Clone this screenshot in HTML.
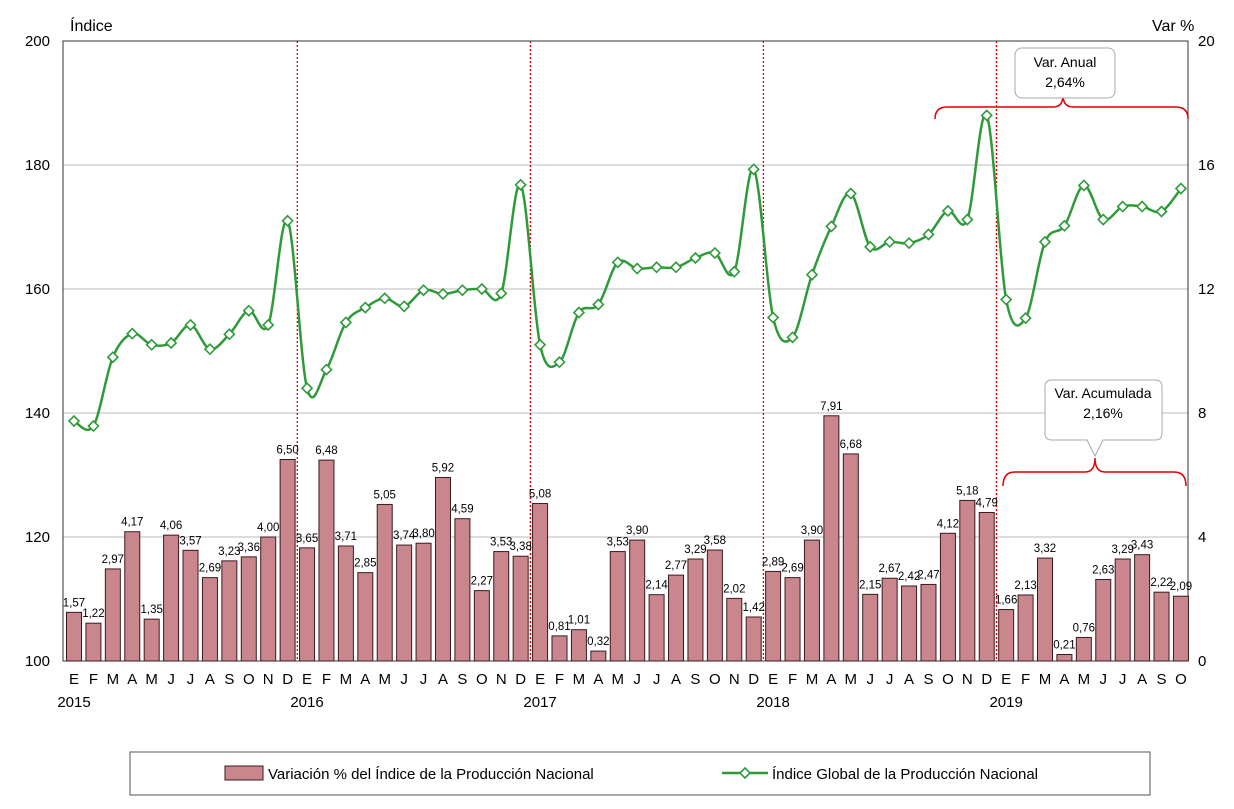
<!DOCTYPE html>
<html><head><meta charset="utf-8"><style>
body{margin:0;background:#fff;font-family:"Liberation Sans",sans-serif;}
svg text{font-family:"Liberation Sans",sans-serif;}
</style></head><body>
<svg id="c" width="1234" height="804"></svg>
<script>
const months=["E","F","M","A","M","J","J","A","S","O","N","D"];
const barVals=[1.57,1.22,2.97,4.17,1.35,4.06,3.57,2.69,3.23,3.36,4.00,6.50,
3.65,6.48,3.71,2.85,5.05,3.74,3.80,5.92,4.59,2.27,3.53,3.38,
5.08,0.81,1.01,0.32,3.53,3.90,2.14,2.77,3.29,3.58,2.02,1.42,
2.89,2.69,3.90,7.91,6.68,2.15,2.67,2.42,2.47,4.12,5.18,4.79,
1.66,2.13,3.32,0.21,0.76,2.63,3.29,3.43,2.22,2.09];
const lineVals=[138.7,137.9,149,152.8,151,151.3,154.2,150.3,152.7,156.5,154.2,171,
144,147,154.6,157,158.5,157.2,159.8,159.2,159.8,160,159.3,176.8,
151,148.2,156.2,157.5,164.3,163.3,163.5,163.5,165,165.8,162.8,179.3,
155.4,152.2,162.3,170.1,175.4,166.8,167.6,167.4,168.8,172.6,171.2,188,
158.3,155.3,167.6,170.2,176.7,171.2,173.3,173.3,172.5,176.2];
const years=["2015","2016","2017","2018","2019"];
const leftTicks=[100,120,140,160,180,200];
const rightTicks=[0,4,8,12,16,20];
const X0=63,X1=1188,Y0=661,Y1=41;
const step=19.42;
const xs=i=>74+i*step;
const yL=v=>Y0-(v-100)*(Y0-Y1)/100;
const yR=v=>Y0-v*(Y0-Y1)/20;
const svg=document.getElementById('c');
const NS="http://www.w3.org/2000/svg";
function mk(t,a,p){const e=document.createElementNS(NS,t);for(const k in a)e.setAttribute(k,a[k]);(p||svg).appendChild(e);return e;}
// gridlines & ticks
leftTicks.forEach((v,i)=>{
 if(v>100&&v<200){const g=mk('line',{x1:X0,x2:X1,y1:yL(v),y2:yL(v),stroke:'#bbb','stroke-width':1});
 
 }
 const t=mk('text',{x:50,y:yL(v)+5,'text-anchor':'end','font-size':15});t.textContent=v;
 
 
});
rightTicks.forEach(v=>{
 const t=mk('text',{x:1198,y:yR(v)+5,'font-size':15});t.textContent=v;
 
 
});
mk('rect',{x:X0,y:Y1,width:X1-X0,height:Y0-Y1,fill:'none',stroke:'#333','stroke-width':1});
// year separators
for(let y=1;y<5;y++){const x=xs(12*y)-step/2;const l=mk('line',{x1:x,x2:x,y1:Y1,y2:Y0,stroke:'#d00','stroke-width':1.3,'stroke-dasharray':'2,2'});
 
 }
// bars
barVals.forEach((v,i)=>{
 const b=mk('rect',{x:xs(i)-7.5,y:yR(v),width:15,height:Y0-yR(v),fill:'#c9878d',stroke:'#3a1a1e','stroke-width':1});
 
 
 const t=mk('text',{x:xs(i),y:yR(v)-6,'text-anchor':'middle','font-size':11.5});t.textContent=v.toFixed(2).replace('.',',');
 
 
});
// month labels
barVals.forEach((v,i)=>{
 const t=mk('text',{x:xs(i),y:684,'text-anchor':'middle','font-size':15});t.textContent=months[i%12];
 
 
});
years.forEach((yr,k)=>{const t=mk('text',{x:xs(12*k),y:707,'text-anchor':'middle','font-size':15});t.textContent=yr;
 
 });
// line (catmull-rom)
const P=lineVals.map((v,i)=>[xs(i),yL(v)]);
let d='M'+P[0][0]+','+P[0][1];
for(let i=0;i<P.length-1;i++){const p0=P[i-1]||P[i],p1=P[i],p2=P[i+1],p3=P[i+2]||p2;
 d+=` C${p1[0]+(p2[0]-p0[0])/6},${p1[1]+(p2[1]-p0[1])/6} ${p2[0]-(p3[0]-p1[0])/6},${p2[1]-(p3[1]-p1[1])/6} ${p2[0]},${p2[1]}`;}
const ln=mk('path',{d:d,fill:'none',stroke:'#2f9a3a','stroke-width':2.5});


P.forEach(p=>{const m=mk('path',{d:`M${p[0]},${p[1]-5}L${p[0]+5},${p[1]}L${p[0]},${p[1]+5}L${p[0]-5},${p[1]}Z`,fill:'#fff',stroke:'#2f9a3a','stroke-width':1.6});
 
 });
// axis titles
let t=mk('text',{x:70,y:31,'font-size':16});t.textContent='Índice';


t=mk('text',{x:1152,y:31,'font-size':16});t.textContent='Var %';


// annotations
function brace(x1,x2,y,h,xm){return `M${x1},${y+h} Q${x1},${y} ${x1+12},${y} L${xm-10},${y} Q${xm},${y} ${xm},${y-h} Q${xm},${y} ${xm+10},${y} L${x2-12},${y} Q${x2},${y} ${x2},${y+h}`;}
let b=mk('path',{d:brace(935,1188,107,12,1063),fill:'none',stroke:'#d00','stroke-width':1.5});


b=mk('path',{d:brace(1003,1186,472,14,1095),fill:'none',stroke:'#d00','stroke-width':1.5});


let bx=mk('rect',{x:1015,y:48,width:100,height:50,rx:7,fill:'#fff',stroke:'#aaa'});


t=mk('text',{x:1065,y:67,'text-anchor':'middle','font-size':14});t.textContent='Var. Anual';


t=mk('text',{x:1065,y:87,'text-anchor':'middle','font-size':14});t.textContent='2,64%';


bx=mk('path',{d:'M1052,380 L1155,380 Q1162,380 1162,387 L1162,433 Q1162,440 1155,440 L1103,440 L1095,456 L1087,440 L1052,440 Q1045,440 1045,433 L1045,387 Q1045,380 1052,380Z',fill:'#fff',stroke:'#aaa'});


t=mk('text',{x:1103,y:398,'text-anchor':'middle','font-size':14});t.textContent='Var. Acumulada';


t=mk('text',{x:1103,y:418,'text-anchor':'middle','font-size':14});t.textContent='2,16%';


// legend
const lg=mk('rect',{x:130,y:752,width:1020,height:43,fill:'#fff',stroke:'#555'});


let r=mk('rect',{x:225,y:766,width:38,height:14,fill:'#c9878d',stroke:'#3a1a1e'});


t=mk('text',{x:268,y:779,'font-size':15});t.textContent='Variación % del Índice de la Producción Nacional';


r=mk('line',{x1:722,x2:768,y1:773,y2:773,stroke:'#2f9a3a','stroke-width':2.5});


r=mk('path',{d:'M745,768L750,773L745,778L740,773Z',fill:'#fff',stroke:'#2f9a3a','stroke-width':1.6});


t=mk('text',{x:772,y:779,'font-size':15});t.textContent='Índice Global de la Producción Nacional';


</script>
</body></html>
